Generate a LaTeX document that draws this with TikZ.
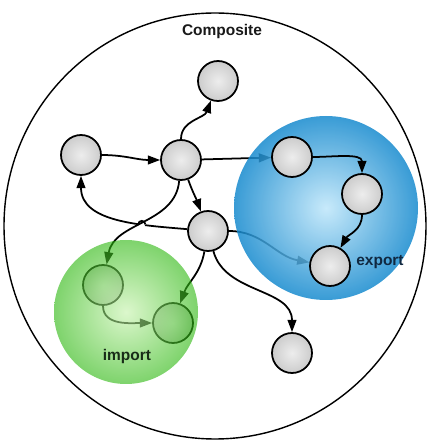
\documentclass[tikz,border=0pt]{standalone}
\usepackage{fontspec}
\setsansfont{Liberation Sans}
\usetikzlibrary{arrows.meta, positioning, intersections}
\definecolor{exportedge}{RGB}{22,138,206}
\definecolor{exportcore}{RGB}{190,230,250}
\definecolor{importedge}{RGB}{40,182,10}
\definecolor{importcore}{RGB}{196,242,170}
\pgfdeclarelayer{under}
\pgfdeclarelayer{gap}
\pgfdeclarelayer{front}
\pgfsetlayers{under,gap,main,front}

\begin{document}
\begin{tikzpicture}[
    x=0.02cm, y=0.02cm, >={Triangle[length=7pt,width=5pt]},
    font=\sffamily\bfseries\fontsize{8.8}{10}\selectfont,
    unit/.style={circle, draw=black, line width=1pt, minimum size=0.8cm, inner sep=0pt, inner color=black!7, outer color=black!20},
    link/.style={->, line width=1pt},
    tag/.style={inner sep=1pt},
]
\useasboundingbox (0,0) rectangle (430,440);
\draw[line width=0.8pt] (215,214) ellipse [x radius=211, y radius=213];
\node[tag, text=black!90] (title) at (222,408) {Composite};

\begin{pgfonlayer}{front}
\node[unit] (exp1) at (292,283) {};
\node[unit] (exp2) at (362,246) {};
\node[unit] (exp3) at (330,174) {};
\draw[link] (exp1) to[out=0,in=90] (exp2);
\draw[link] (exp2) to[out=-90,in=60] (exp3);
\node[tag, text={rgb,255:red,16;green,40;blue,64}] (export) at (380,178) {export};
\end{pgfonlayer}

\node[unit] (top)  at (218,359) {};
\node[unit] (src)  at (81,285)  {};
\node[unit] (hub)  at (181,280) {};
\node[unit] (fork) at (208,209) {};
\node[unit] (sink) at (292,87)  {};
\node[unit] (imp1) at (103,155) {};
\node[unit] (imp2) at (173,117) {};

\draw[link] (src) to[out=0,in=180] (hub);
\draw[link] (hub) to[out=90,in=-110] (top);
\draw[link] (hub) -- (exp1);
\draw[link] (hub) to[out=-70,in=110] (fork);
\begin{pgfonlayer}{under}
\draw[link, name path global=back] (fork) to[out=175,in=-90] (src);
\end{pgfonlayer}
\draw[link, name path global=down] (hub) to[out=-95,in=80] (imp1);
\path[name intersections={of=back and down, by=hop}];
\begin{pgfonlayer}{gap}
\fill[white] (hop) circle (3.5);
\draw[line width=1pt] ([shift={(-3.5,0)}]hop) arc[start angle=180, end angle=0, radius=3.5];
\end{pgfonlayer}
\draw[link] (fork) to[out=0,in=170] (exp3);
\draw[link] (fork) to[out=-100,in=70] (imp2);
\draw[link] (fork) to[out=-75,in=90] (sink);
\draw[link] (imp1) to[out=-90,in=180] (imp2);

\shade[inner color=exportcore, outer color=exportedge, opacity=0.85] (326,232) circle (92);
\shade[inner color=importcore, outer color=importedge, opacity=0.6] (126,128) circle (72);
\node[tag, text={rgb,255:red,24;green,44;blue,24}] (import) at (127,83) {import};
\end{tikzpicture}
\end{document}
